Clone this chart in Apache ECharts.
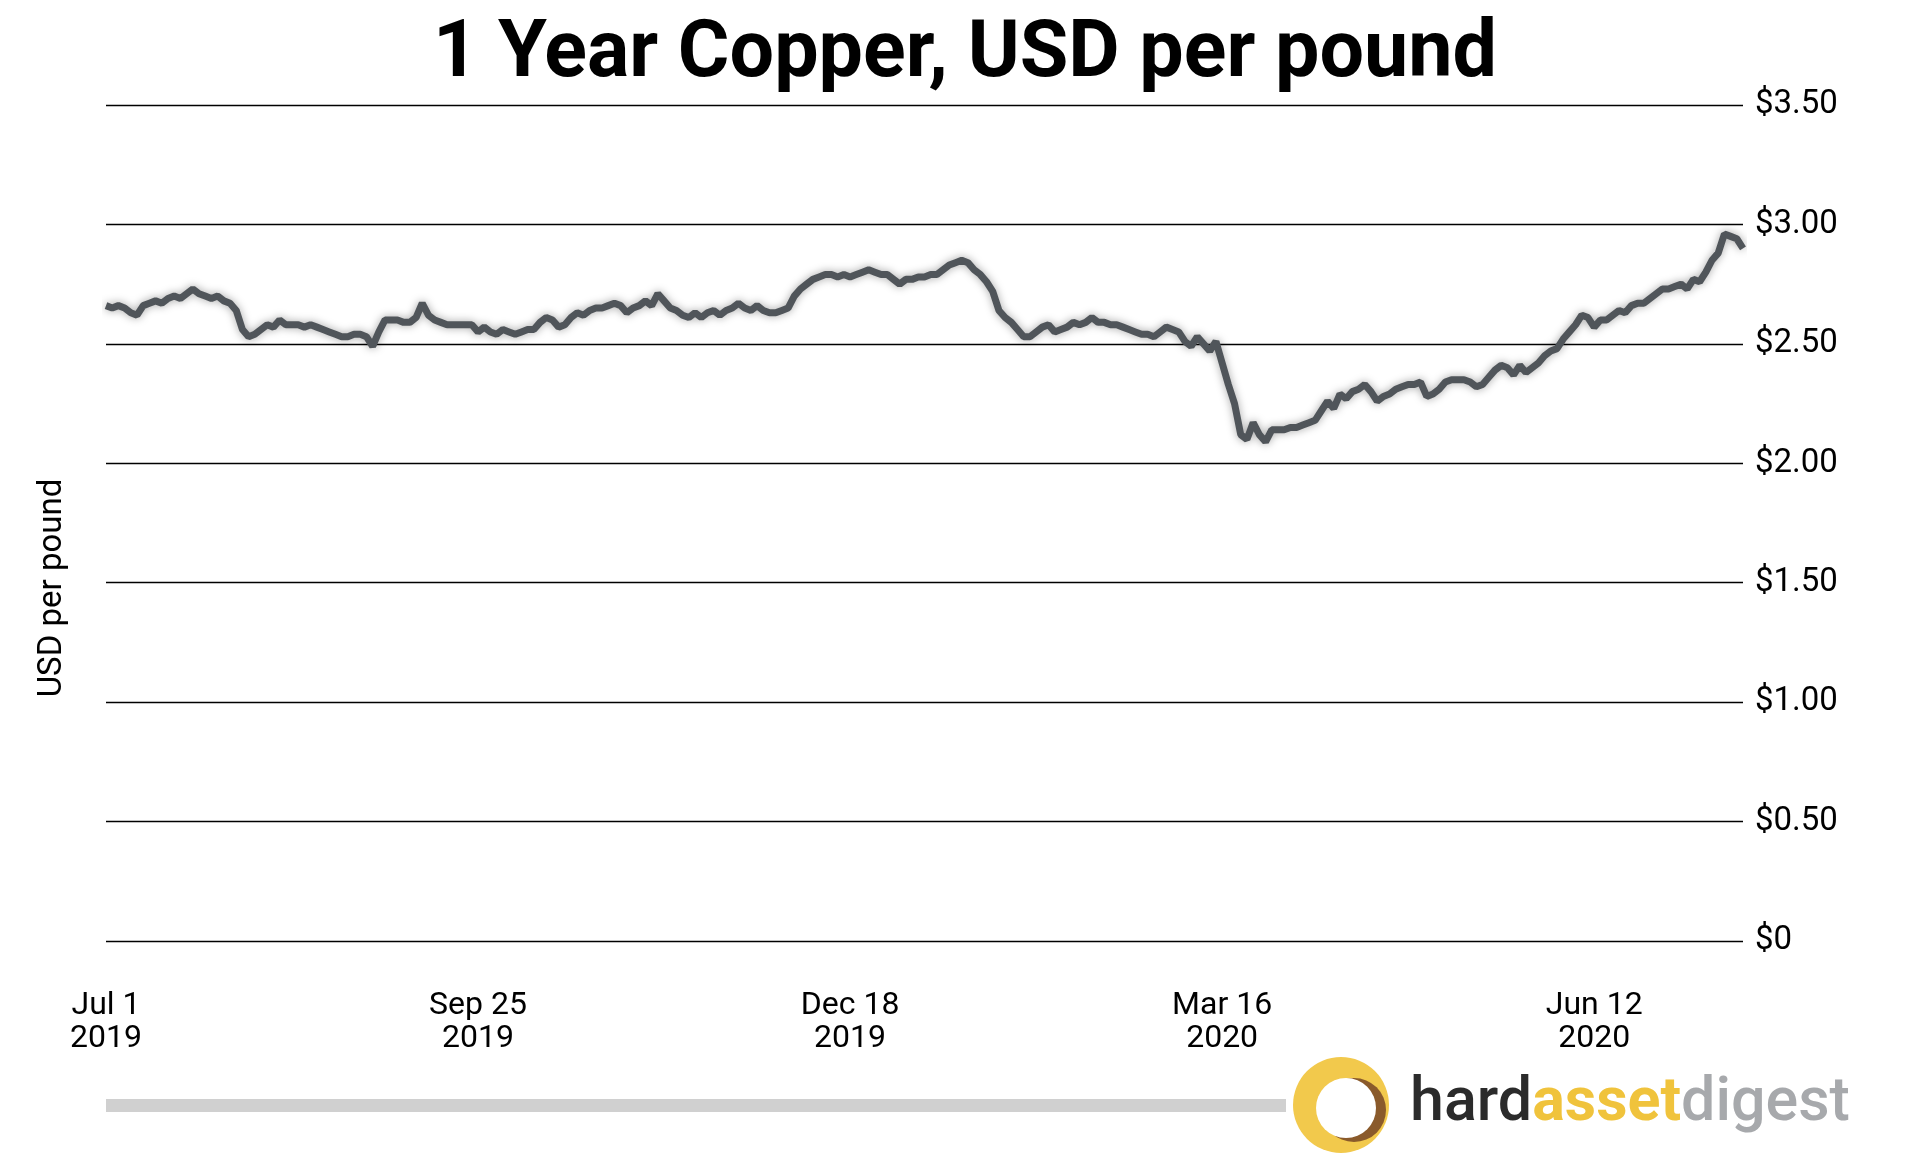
<!DOCTYPE html>
<html><head><meta charset="utf-8">
<script src="https://cdn.jsdelivr.net/npm/echarts@6/dist/echarts.min.js"></script>
<style>html,body{margin:0;padding:0;background:#fff}#c{width:1920px;height:1168px}</style>
</head><body><div id="c"></div>
<script>
const prices = [
2.66,2.65,2.66,2.65,2.63,2.62,2.66,2.67,2.68,2.67,
2.69,2.70,2.69,2.71,2.73,2.71,2.70,2.69,2.70,2.68,
2.67,2.64,2.56,2.53,2.54,2.56,2.58,2.57,2.60,2.58,
2.58,2.58,2.57,2.58,2.57,2.56,2.55,2.54,2.53,2.53,
2.54,2.54,2.53,2.49,2.55,2.60,2.60,2.60,2.59,2.59,
2.61,2.67,2.62,2.60,2.59,2.58,2.58,2.58,2.58,2.58,
2.55,2.57,2.55,2.54,2.56,2.55,2.54,2.55,2.56,2.56,
2.59,2.61,2.60,2.57,2.58,2.61,2.63,2.62,2.64,2.65,
2.65,2.66,2.67,2.66,2.63,2.65,2.66,2.68,2.66,2.71,
2.68,2.65,2.64,2.62,2.61,2.63,2.61,2.63,2.64,2.62,
2.64,2.65,2.67,2.65,2.64,2.66,2.64,2.63,2.63,2.64,
2.65,2.70,2.73,2.75,2.77,2.78,2.79,2.79,2.78,2.79,
2.78,2.79,2.80,2.81,2.80,2.79,2.79,2.77,2.75,2.77,
2.77,2.78,2.78,2.79,2.79,2.81,2.83,2.84,2.85,2.84,
2.81,2.79,2.76,2.72,2.64,2.61,2.59,2.56,2.53,2.53,
2.55,2.57,2.58,2.55,2.56,2.57,2.59,2.58,2.59,2.61,
2.59,2.59,2.58,2.58,2.57,2.56,2.55,2.54,2.54,2.53,
2.55,2.57,2.56,2.55,2.51,2.49,2.53,2.50,2.47,2.51,
2.42,2.33,2.25,2.12,2.10,2.17,2.12,2.09,2.14,2.14,
2.14,2.15,2.15,2.16,2.17,2.18,2.22,2.26,2.23,2.29,
2.27,2.30,2.31,2.33,2.30,2.26,2.28,2.29,2.31,2.32,
2.33,2.33,2.34,2.28,2.29,2.31,2.34,2.35,2.35,2.35,
2.34,2.32,2.33,2.36,2.39,2.41,2.40,2.37,2.41,2.38,
2.40,2.42,2.45,2.47,2.48,2.52,2.55,2.58,2.62,2.61,
2.57,2.60,2.60,2.62,2.64,2.63,2.66,2.67,2.67,2.69,
2.71,2.73,2.73,2.74,2.75,2.73,2.77,2.76,2.80,2.85,
2.88,2.96,2.95,2.94,2.90
];
const tickIndex = [0, 60, 120, 180, 240];
const tickLabels = ["Jul 1\n2019", "Sep 25\n2019", "Dec 18\n2019", "Mar 16\n2020", "Jun 12\n2020"];
const days = prices.map((_, i) => i);

const chart = echarts.init(document.getElementById('c'));
const font = 'Roboto';
chart.setOption({
  backgroundColor: '#fff',
  animation: false,
  title: { text: '1 Year Copper, USD per pound', left: 960, textAlign: 'center', top: 12,
    textStyle: { fontFamily: font, fontWeight: 'bold', fontSize: 79, color: '#000' } },
  grid: { left: 106, right: 177, top: 105, bottom: 227 },
  xAxis: { type: 'category', data: days, boundaryGap: false,
    axisLine: { show: false }, axisTick: { show: false }, splitLine: { show: false },
    axisLabel: { interval: (i) => tickIndex.includes(i), margin: 48, lineHeight: 33,
      fontFamily: font, fontSize: 32, color: '#000',
      formatter: (v) => { const k = tickIndex.indexOf(Number(v)); return k >= 0 ? tickLabels[k] : ''; } } },
  yAxis: { type: 'value', position: 'right', min: 0, max: 3.5, interval: 0.5,
    axisLine: { show: false }, axisTick: { show: false },
    splitLine: { lineStyle: { color: '#000', width: 1.3 } },
    axisLabel: { margin: 12, fontFamily: font, fontSize: 33, color: '#000',
      formatter: v => v === 0 ? '$0' : '$' + v.toFixed(2) } },
  series: [{ type: 'line', data: prices, showSymbol: false, smooth: false,
    lineStyle: { color: '#50555a', width: 7, shadowColor: 'rgba(0,0,0,0.35)', shadowBlur: 8 } }],
  graphic: [
    { type: 'text', x: 53, y: 588, rotation: Math.PI / 2, style: { text: 'USD per pound',
      font: '33px Roboto', fill: '#000', align: 'center', verticalAlign: 'middle' } },
    { type: 'rect', shape: { x: 106, y: 1099, width: 1180, height: 13 }, style: { fill: '#d0d0d0' } },
    { type: 'circle', shape: { cx: 1341, cy: 1105, r: 48 }, style: { fill: '#f2c94c' } },
    { type: 'circle', shape: { cx: 1354, cy: 1110, r: 32 }, style: { fill: '#8a5a2b' } },
    { type: 'circle', shape: { cx: 1346, cy: 1108, r: 30 }, style: { fill: '#fff' } },
    { type: 'text', x: 1410, y: 1105, style: { rich: {
        a: { fill: '#2b2b2b', font: '500 61px Roboto' },
        b: { fill: '#f0c33c', font: 'bold 61px Roboto' },
        c: { fill: '#a7a9ac', font: '500 61px Roboto' } },
      text: '{a|hard}{b|asset}{c|digest}', verticalAlign: 'middle' } }
  ]
});
</script></body></html>
